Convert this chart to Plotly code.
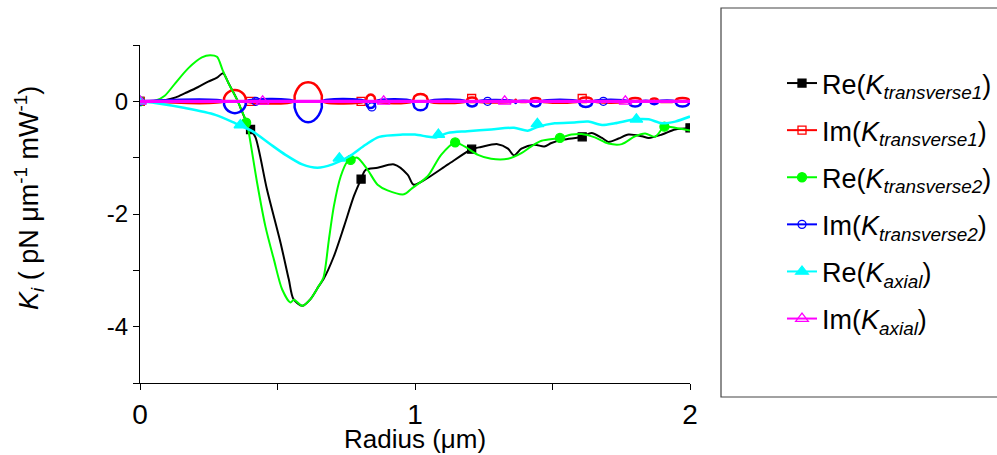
import plotly.graph_objects as go

# ---------------- data ----------------
# Re(K_transverse1) - black
radius_re_t1 = [0.0, 0.05, 0.09, 0.13, 0.164, 0.21, 0.248, 0.28, 0.302, 0.322, 0.353, 0.371,
                0.389, 0.402, 0.42, 0.462, 0.511, 0.541, 0.558, 0.59, 0.62, 0.65, 0.667, 0.705,
                0.742, 0.778, 0.804, 0.82, 0.864, 0.924, 0.973, 0.995, 1.046, 1.12, 1.206, 1.24,
                1.30, 1.338, 1.36, 1.387, 1.434, 1.47, 1.496, 1.54, 1.608, 1.642, 1.68, 1.703,
                1.74, 1.776, 1.825, 1.85, 1.898, 1.946, 2.0]
re_k_t1 = [0.0, 0.005, 0.02, 0.07, 0.145, 0.25, 0.35, 0.42, 0.5, 0.32, 0.03, -0.18,
           -0.39, -0.50, -0.64, -1.57, -2.51, -3.16, -3.51, -3.63, -3.51, -3.28, -3.16, -2.75,
           -2.22, -1.68, -1.38, -1.22, -1.18, -1.12, -1.30, -1.48, -1.36, -1.12, -0.85, -0.81,
           -0.76, -0.84, -0.96, -0.84, -0.77, -0.80, -0.74, -0.68, -0.63, -0.56, -0.65, -0.72,
           -0.66, -0.59, -0.62, -0.65, -0.59, -0.50, -0.48]

# Re(K_transverse2) - green
radius_re_t2 = [0.0, 0.055, 0.09, 0.128, 0.176, 0.225, 0.255, 0.28, 0.30, 0.322, 0.353, 0.371,
                0.389, 0.40, 0.426, 0.456, 0.487, 0.517, 0.547, 0.56, 0.59, 0.62, 0.65, 0.667,
                0.687, 0.705, 0.73, 0.754, 0.766, 0.79, 0.827, 0.864, 0.90, 0.96, 0.99, 1.046,
                1.095, 1.146, 1.18, 1.229, 1.277, 1.338, 1.387, 1.423, 1.46, 1.527, 1.569, 1.606,
                1.654, 1.703, 1.752, 1.80, 1.837, 1.873, 1.907, 1.946, 2.0]
re_k_t2 = [0.0, 0.01, 0.1, 0.32, 0.59, 0.78, 0.82, 0.79, 0.56, 0.32, 0.03, -0.18,
           -0.39, -0.68, -1.45, -2.22, -2.81, -3.34, -3.57, -3.52, -3.63, -3.51, -3.28, -3.13,
           -2.45, -1.86, -1.33, -1.07, -1.04, -1.0, -1.21, -1.48, -1.58, -1.65, -1.54, -1.33,
           -0.95, -0.73, -0.80, -0.95, -1.02, -1.02, -0.92, -0.80, -0.70, -0.65, -0.59, -0.58,
           -0.64, -0.75, -0.76, -0.62, -0.57, -0.63, -0.45, -0.47, -0.52]

# Re(K_axial) - cyan
radius_re_ax = [0.0, 0.055, 0.164, 0.274, 0.347, 0.408, 0.468, 0.529, 0.59, 0.645, 0.70, 0.76,
                0.82, 0.87, 0.955, 1.0, 1.05, 1.077, 1.12, 1.19, 1.277, 1.36, 1.41, 1.448, 1.508,
                1.58, 1.63, 1.68, 1.727, 1.80, 1.85, 1.898, 1.946, 2.0]
re_k_ax = [0.0, -0.03, -0.12, -0.24, -0.39, -0.53, -0.74, -0.95, -1.12, -1.18, -1.12, -0.98,
           -0.77, -0.63, -0.59, -0.59, -0.63, -0.64, -0.56, -0.53, -0.50, -0.47, -0.52, -0.45, -0.39,
           -0.375, -0.36, -0.42, -0.39, -0.32, -0.32, -0.39, -0.36, -0.27]

# Im(K_transverse1) (red) and Im(K_transverse2) (blue) share one radius grid
radius_im = [0.0,
             0.304, 0.306, 0.314, 0.329, 0.345, 0.361, 0.376, 0.384, 0.386,
             0.560, 0.5625, 0.573, 0.591, 0.6115, 0.632, 0.650, 0.661, 0.663,
             0.820, 0.826, 0.839, 0.852, 0.858,
             0.990, 0.999, 1.020, 1.041, 1.050,
             1.186, 1.1925, 1.2075, 1.2225, 1.229,
             1.361, 1.366, 1.371,
             1.417, 1.4235, 1.4385, 1.4535, 1.460,
             1.594, 1.602, 1.621, 1.640, 1.648,
             1.776, 1.783, 1.8005, 1.818, 1.825,
             1.854, 1.859, 1.870, 1.881, 1.886,
             1.945, 1.953, 1.9725, 1.992, 2.0]
im_k_t1 = [0.0,
           0.0, 0.062, 0.132, 0.184, 0.20, 0.184, 0.132, 0.062, 0.0,
           0.0, 0.105, 0.224, 0.313, 0.34, 0.313, 0.224, 0.105, 0.0,
           0.0, 0.085, 0.12, 0.085, 0.0,
           0.0, 0.092, 0.13, 0.092, 0.0,
           0.0, 0.05, 0.07, 0.05, 0.0,
           0.0, 0.03, 0.0,
           0.0, 0.043, 0.06, 0.043, 0.0,
           0.0, 0.05, 0.07, 0.05, 0.0,
           0.0, 0.043, 0.06, 0.043, 0.0,
           0.0, 0.035, 0.05, 0.035, 0.0,
           0.0, 0.043, 0.06, 0.043, 0.0]
im_k_t2 = [0.0,
           0.0, -0.065, -0.139, -0.193, -0.21, -0.193, -0.139, -0.065, 0.0,
           0.0, -0.115, -0.245, -0.34, -0.37, -0.34, -0.245, -0.115, 0.0,
           0.0, -0.085, -0.12, -0.085, 0.0,
           0.0, -0.114, -0.16, -0.114, 0.0,
           0.0, -0.064, -0.09, -0.064, 0.0,
           0.0, -0.03, 0.0,
           0.0, -0.064, -0.09, -0.064, 0.0,
           0.0, -0.071, -0.10, -0.071, 0.0,
           0.0, -0.064, -0.09, -0.064, 0.0,
           0.0, -0.035, -0.05, -0.035, 0.0,
           0.0, -0.064, -0.09, -0.064, 0.0]

# Im(K_axial) - magenta
radius_im_ax = [0.0, 2.0]
im_k_ax = [0.0, 0.0]

# marker positions (every n-th point of the original curves)
mk_re_t1_x = [0.0, 0.402, 0.804, 1.206, 1.608, 2.0]
mk_re_t1_y = [0.0, -0.50, -1.38, -0.85, -0.63, -0.47]
mk_im_t1_x = [0.0, 0.402, 0.804, 1.206, 1.608]
mk_im_t1_y = [0.0, 0.0, 0.0, 0.05, 0.05]
mk_re_t2_x = [0.0, 0.386, 0.766, 1.146, 1.527, 1.907]
mk_re_t2_y = [0.0, -0.38, -1.04, -0.73, -0.65, -0.45]
mk_im_t2_x = [0.0, 0.421, 0.843, 1.264, 1.685]
mk_im_t2_y = [0.0, 0.0, -0.10, 0.0, 0.0]
mk_re_ax_x = [0.0, 0.365, 0.725, 1.085, 1.445, 1.805]
mk_re_ax_y = [0.0, -0.42, -1.01, -0.59, -0.40, -0.32]
mk_im_ax_x = [0.0, 0.446, 0.886, 1.326, 1.765]
mk_im_ax_y = [0.0, 0.0, 0.0, 0.0, 0.0]

x_tick_vals = [0, 0.5, 1, 1.5, 2]
x_tick_text = ["0", "", "1", "", "2"]
y_tick_vals = [-5, -4, -3, -2, -1, 0, 1]
y_tick_text = ["", "-4", "", "-2", "", "0", ""]

x_title = "Radius (μm)"
y_title = "<i>K</i><sub><i>i</i></sub> ( pN μm<sup>-1</sup> mW<sup>-1</sup>)"

names = ["Re(<i>K</i><sub><i>transverse1</i></sub>)",
         "Im(<i>K</i><sub><i>transverse1</i></sub>)",
         "Re(<i>K</i><sub><i>transverse2</i></sub>)",
         "Im(<i>K</i><sub><i>transverse2</i></sub>)",
         "Re(<i>K</i><sub><i>axial</i></sub>)",
         "Im(<i>K</i><sub><i>axial</i></sub>)"]

FONT = "Arial, Liberation Sans, sans-serif"

series = [
    (radius_re_t1, re_k_t1, mk_re_t1_x, mk_re_t1_y, "#000000", 2.0, "square", 8),
    (radius_im, im_k_t1, mk_im_t1_x, mk_im_t1_y, "#FF0000", 2.5, "square-open", 8),
    (radius_re_t2, re_k_t2, mk_re_t2_x, mk_re_t2_y, "#00FF00", 2.0, "circle", 9),
    (radius_im, im_k_t2, mk_im_t2_x, mk_im_t2_y, "#0000FF", 2.5, "circle-open", 8),
    (radius_re_ax, re_k_ax, mk_re_ax_x, mk_re_ax_y, "#00FFFF", 2.5, "triangle-up", 11),
    (radius_im_ax, im_k_ax, mk_im_ax_x, mk_im_ax_y, "#FF00FF", 3.2, "triangle-up-open", 11),
]

fig = go.Figure()
for i, (xs, ys, mx, my, col, lw, sym, ms) in enumerate(series):
    fig.add_trace(go.Scatter(x=xs, y=ys, mode="lines", line=dict(color=col, width=lw, shape="spline", smoothing=0.8),
                             showlegend=False, hoverinfo="skip", cliponaxis=True))
    fig.add_trace(go.Scatter(x=mx, y=my, mode="markers",
                             marker=dict(symbol=sym, size=ms, color=col, line=dict(color=col, width=1.3)),
                             showlegend=False, cliponaxis=True))
    # legend entry only
    fig.add_trace(go.Scatter(x=[None], y=[None], mode="lines+markers", name=names[i], legendgroup=f"g{i}",
                             line=dict(color=col, width=2),
                             marker=dict(symbol=sym, size=ms, color=col, line=dict(color=col, width=1.3))))

L, T, W, H = 140, 45, 550, 338  # plot area in pixels


def px_x(p):
    return (p - L) / W


def px_y(p):
    return (T + H - p) / H


fig.update_layout(
    width=997, height=455,
    margin=dict(l=L, r=997 - L - W, t=T, b=455 - T - H, autoexpand=False),
    paper_bgcolor="white", plot_bgcolor="white",
    font=dict(family=FONT, color="black", size=26),
    xaxis=dict(range=[0, 2], tickvals=x_tick_vals, ticktext=x_tick_text, ticks="outside", ticklen=6,
               tickwidth=1.3, tickcolor="black", showline=True, linecolor="black", linewidth=1.3,
               showgrid=False, zeroline=False, tickfont=dict(size=28), automargin=False),
    yaxis=dict(range=[-5, 1], tickvals=y_tick_vals, ticktext=y_tick_text, ticks="outside", ticklen=6,
               tickwidth=1.3, tickcolor="black", showline=True, linecolor="black", linewidth=1.3,
               showgrid=False, zeroline=False, tickfont=dict(size=24), automargin=False),
    legend=dict(x=px_x(782), y=px_y(59), xanchor="left", yanchor="top",
                bgcolor="rgba(0,0,0,0)", borderwidth=0, font=dict(size=27, family=FONT),
                traceorder="grouped", tracegroupgap=9),
    annotations=[
        dict(text=x_title, xref="paper", yref="paper", x=0.5, y=px_y(439), xanchor="center",
             yanchor="middle", showarrow=False, font=dict(size=26)),
        dict(text=y_title, xref="paper", yref="paper", x=px_x(29), y=px_y(198), xanchor="center",
             yanchor="middle", showarrow=False, textangle=-90, font=dict(size=27)),
    ],
    shapes=[dict(type="rect", xref="paper", yref="paper",
                 x0=px_x(721), x1=px_x(1010), y0=px_y(397), y1=px_y(8),
                 line=dict(color="#444444", width=1.2), fillcolor="rgba(0,0,0,0)", layer="below")],
)

fig.write_html("out.html", config={"displayModeBar": False},
               post_script="document.body.style.margin='0px';")
